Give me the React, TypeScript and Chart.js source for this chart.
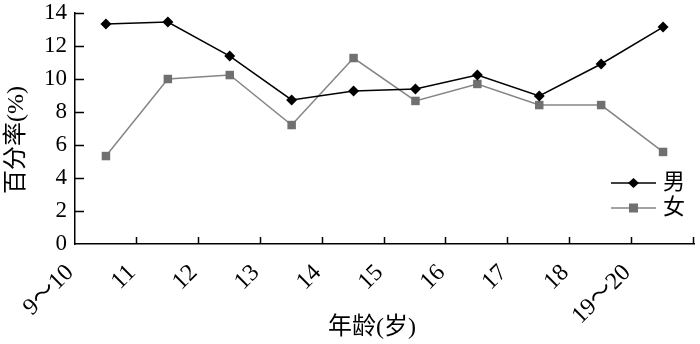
import React, { useEffect, useRef } from 'react';
import { Chart, registerables } from 'chart.js';

Chart.register(...registerables);

const ageLabels = ['9～10', '11', '12', '13', '14', '15', '16', '17', '18', '19～20'];
const maleValues = [13.33, 13.45, 11.39, 8.73, 9.27, 9.39, 10.24, 8.97, 10.91, 13.15];
const femaleValues = [5.33, 10.0, 10.24, 7.21, 11.27, 8.67, 9.7, 8.42, 8.42, 5.58];
const seriesNames = ['男', '女'];
const yTickValues = [0, 2, 4, 6, 8, 10, 12, 14];
const yTitle = '百分率(%)';
const xTitle = '年龄(岁)';

const SERIF = '"Liberation Serif", "Times New Roman", serif';
const MIXED = '"Liberation Serif", "Noto Sans CJK SC", serif';
const MALE_COLOR = '#000000';
const FEMALE_LINE = '#858585';
const FEMALE_MARK = '#707070';

const extrasPlugin = {
  id: 'extras',
  afterDraw(chart: any) {
    const ctx = chart.ctx as CanvasRenderingContext2D;
    const area = chart.chartArea;
    const xs = chart.scales.x;
    const ys = chart.scales.y;
    ctx.save();
    // inner ticks
    ctx.strokeStyle = '#000';
    ctx.lineWidth = 1.5;
    ctx.beginPath();
    yTickValues.forEach((v) => {
      if (v === 0) return;
      const py = Math.round(ys.getPixelForValue(v)) + 0.5;
      ctx.moveTo(area.left, py);
      ctx.lineTo(area.left + 9, py);
    });
    for (let i = 1; i <= ageLabels.length; i++) {
      const px = Math.round(xs.getPixelForValue(i)) - 0.5;
      ctx.moveTo(px, area.bottom);
      ctx.lineTo(px, area.bottom - 7);
    }
    ctx.stroke();

    // legend
    const lx0 = area.right - 83;
    const lx1 = area.right - 38;
    const lm = (lx0 + lx1) / 2;
    const rows = [
      { y: 183, line: MALE_COLOR, mark: MALE_COLOR, diamond: true },
      { y: 208, line: FEMALE_LINE, mark: FEMALE_MARK, diamond: false },
    ];
    rows.forEach((r, i) => {
      ctx.strokeStyle = r.line;
      ctx.lineWidth = 1.5;
      ctx.beginPath();
      ctx.moveTo(lx0, r.y);
      ctx.lineTo(lx1, r.y);
      ctx.stroke();
      ctx.fillStyle = r.mark;
      if (r.diamond) {
        ctx.beginPath();
        ctx.moveTo(lm - 5.5, r.y);
        ctx.lineTo(lm, r.y - 5);
        ctx.lineTo(lm + 5.5, r.y);
        ctx.lineTo(lm, r.y + 5);
        ctx.closePath();
        ctx.fill();
      } else {
        ctx.fillRect(lm - 4.5, r.y - 4.5, 9, 9);
      }
      ctx.fillStyle = '#000';
      ctx.font = `22px ${MIXED}`;
      ctx.textAlign = 'left';
      ctx.textBaseline = 'middle';
      ctx.fillText(seriesNames[i], area.right - 31, r.y);
    });

    // titles
    ctx.fillStyle = '#000';
    ctx.font = `24px ${MIXED}`;
    ctx.textAlign = 'center';
    ctx.textBaseline = 'middle';
    ctx.save();
    ctx.translate(17, 140);
    ctx.rotate(-Math.PI / 2);
    ctx.fillText(yTitle, 0, 0);
    ctx.restore();
    ctx.font = `24px ${MIXED}`;
    ctx.fillText(xTitle, 372, 328);
    ctx.restore();
  },
};

export default function App() {
  const ref = useRef<HTMLCanvasElement | null>(null);
  useEffect(() => {
    document.body.style.margin = '0';
    const canvas = ref.current;
    if (!canvas) return;
    let chart: any = null;
    let cancelled = false;
    const build = () => {
      if (cancelled) return;
      chart = new Chart(canvas, {
        type: 'line',
        data: {
          datasets: [
            {
              label: seriesNames[0],
              data: maleValues.map((v, i) => ({ x: i + 0.5, y: v })),
              borderColor: MALE_COLOR,
              backgroundColor: MALE_COLOR,
              borderWidth: 1.5,
              pointStyle: 'rectRot',
              pointRadius: 5.5,
              pointBorderWidth: 0,
              tension: 0,
            },
            {
              label: seriesNames[1],
              data: femaleValues.map((v, i) => ({ x: i + 0.5, y: v })),
              borderColor: FEMALE_LINE,
              backgroundColor: FEMALE_MARK,
              borderWidth: 1.5,
              pointStyle: 'rect',
              pointRadius: 6,
              pointBorderWidth: 0,
              tension: 0,
            },
          ],
        },
        options: {
          animation: false,
          responsive: false,
          devicePixelRatio: 1,
          layout: { padding: { top: 13, right: 2, left: 0, bottom: 0 } },
          plugins: { legend: { display: false }, tooltip: { enabled: false } },
          scales: {
            x: {
              type: 'linear',
              min: 0,
              max: ageLabels.length,
              afterFit(s: any) {
                s.height = 100;
                s.paddingLeft = 0;
                s.paddingRight = 0;
              },
              afterBuildTicks(s: any) {
                s.ticks = ageLabels.map((_, i) => ({ value: i - 0.08 }));
              },
              ticks: {
                autoSkip: false,
                maxRotation: 45,
                minRotation: 45,
                padding: 15,
                color: '#000',
                font: { family: MIXED, size: 24 },
                callback: (v: any) => ageLabels[Math.round(v)] ?? '',
              },
              grid: { display: false, drawTicks: false },
              border: { display: true, color: '#000', width: 1.5 },
            },
            y: {
              min: 0,
              max: 14,
              afterFit(s: any) {
                s.width = 75;
                s.paddingTop = 0;
                s.paddingBottom = 0;
              },
              afterBuildTicks(s: any) {
                s.ticks = yTickValues.map((v) => ({ value: v }));
              },
              ticks: {
                padding: 8,
                color: '#000',
                font: { family: SERIF, size: 23 },
              },
              grid: { display: false, drawTicks: false },
              border: { display: true, color: '#000', width: 1.5 },
            },
          },
        },
        plugins: [extrasPlugin],
      } as any);
    };
    const fonts: any = (document as any).fonts;
    if (fonts && fonts.load) {
      Promise.all([
        fonts.load('22px "Liberation Serif"', '0123456789()%~'),
        fonts.load('22px "Noto Sans CJK SC"', '百分率年龄岁男女～'),
      ])
        .catch(() => null)
        .then(build);
    } else {
      build();
    }
    return () => {
      cancelled = true;
      if (chart) chart.destroy();
    };
  }, []);
  return (
    <div style={{ width: 700, height: 344 }}>
      <canvas ref={ref} width={700} height={344} style={{ display: 'block' }} />
    </div>
  );
}
